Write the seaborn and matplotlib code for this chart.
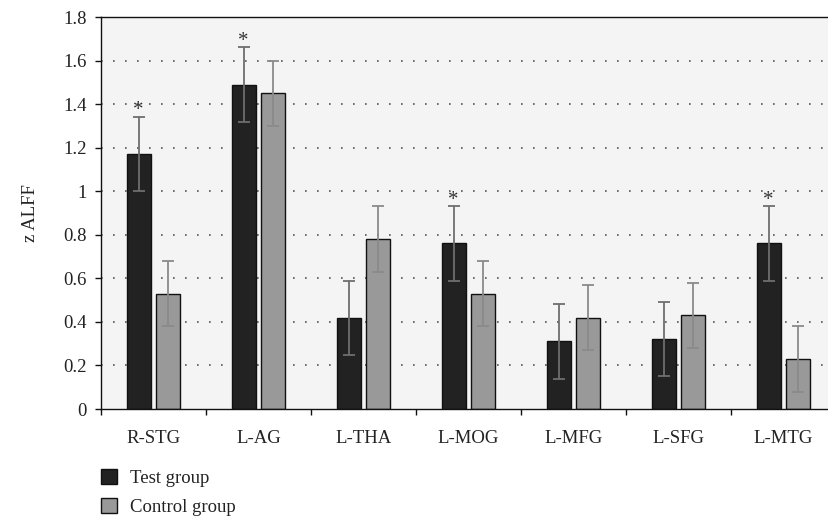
import matplotlib
matplotlib.use("Agg")
import matplotlib.pyplot as plt
import seaborn as sns
import pandas as pd
import numpy as np
from matplotlib.patches import Patch
from matplotlib.ticker import FixedLocator

regions = ["R-STG", "L-AG", "L-THA", "L-MOG", "L-MFG", "L-SFG", "L-MTG"]
groups = ["Test group", "Control group"]
test_vals = [1.17, 1.49, 0.42, 0.76, 0.31, 0.32, 0.76]
control_vals = [0.53, 1.45, 0.78, 0.53, 0.42, 0.43, 0.23]
test_err = [0.17, 0.17, 0.17, 0.17, 0.17, 0.17, 0.17]
control_err = [0.15, 0.15, 0.15, 0.15, 0.15, 0.15, 0.15]
significant = [True, True, False, True, False, False, True]
yticks = [0, 0.2, 0.4, 0.6, 0.8, 1.0, 1.2, 1.4, 1.6, 1.8]
ytick_labels = ["0", "0.2", "0.4", "0.6", "0.8", "1", "1.2", "1.4", "1.6", "1.8"]

df = pd.DataFrame({
    "region": regions * 2,
    "group": [groups[0]] * len(regions) + [groups[1]] * len(regions),
    "value": test_vals + control_vals,
})

sns.set_theme(style="white")
plt.rcParams["font.family"] = ["Liberation Serif", "DejaVu Serif"]
FS = 13.5

fig = plt.figure(figsize=(8.29, 5.23), dpi=100)
# axes extends beyond the right edge of the figure (cropped, as in the reference)
ax = fig.add_axes([101 / 829, 1 - 409 / 523, 735 / 829, 392 / 523])
ax.set_facecolor("#f4f4f4")

colors = {"Test group": "#222222", "Control group": "#999999"}
sns.barplot(data=df, x="region", y="value", hue="group", order=regions,
            hue_order=groups, palette=colors, width=0.571, gap=0.2,
            edgecolor="#111111", linewidth=1.0, legend=False, ax=ax, zorder=2)

bars = [p for p in ax.patches]
n = len(regions)
centers_test = [bars[i].get_x() + bars[i].get_width() / 2 for i in range(n)]
centers_ctrl = [bars[n + i].get_x() + bars[n + i].get_width() / 2 for i in range(n)]
ax.errorbar(centers_test, test_vals, yerr=test_err, fmt="none", ecolor="#6e6e6e",
            elinewidth=1.3, capsize=4.3, capthick=1.3, zorder=3)
ax.errorbar(centers_ctrl, control_vals, yerr=control_err, fmt="none", ecolor="#8a8a8a",
            elinewidth=1.3, capsize=4.3, capthick=1.3, zorder=3)
for x, v, e, s in zip(centers_test, test_vals, test_err, significant):
    if s:
        ax.text(x, v + e - 0.015, "*", ha="center", va="bottom", fontsize=15,
                color="#333333", zorder=4)

ax.set_ylim(0, 1.8)
ax.set_xlim(-0.5, n - 0.5)
ax.set_yticks(yticks)
ax.set_yticklabels(ytick_labels)
for y in yticks[1:-1]:
    ax.axhline(y, color="#555555", linestyle=(0, (1, 6.2)), linewidth=1.2, zorder=1)

ax.set_xticks(range(n))
ax.set_xticklabels(regions)
ax.xaxis.set_minor_locator(FixedLocator([i + 0.5 for i in range(-1, n)]))
ax.tick_params(axis="x", which="major", length=0, pad=15, labelsize=FS, colors="#222222")
ax.tick_params(axis="x", which="minor", length=4.5, width=1.0, direction="out", color="#111111", bottom=True)
ax.tick_params(axis="y", which="major", length=4.5, width=1.0, direction="out", labelsize=FS,
               color="#111111", left=True, labelcolor="#222222", pad=6)
ax.set_xlabel("")
ax.set_ylabel("z ALFF", fontsize=FS, color="#222222", labelpad=17)
for sp in ax.spines.values():
    sp.set_color("#111111")
    sp.set_linewidth(1.0)

handles = [Patch(facecolor="#222222", edgecolor="#111111", label="Test group"),
           Patch(facecolor="#999999", edgecolor="#111111", label="Control group")]
fig.legend(handles=handles, loc="upper left", bbox_to_anchor=(84 / 829, 1 - 452 / 523),
           frameon=False, fontsize=FS, handlelength=0.85, handleheight=0.85,
           handletextpad=0.7, labelspacing=0.6, labelcolor="#222222")

fig.savefig("out.png", dpi=100)
